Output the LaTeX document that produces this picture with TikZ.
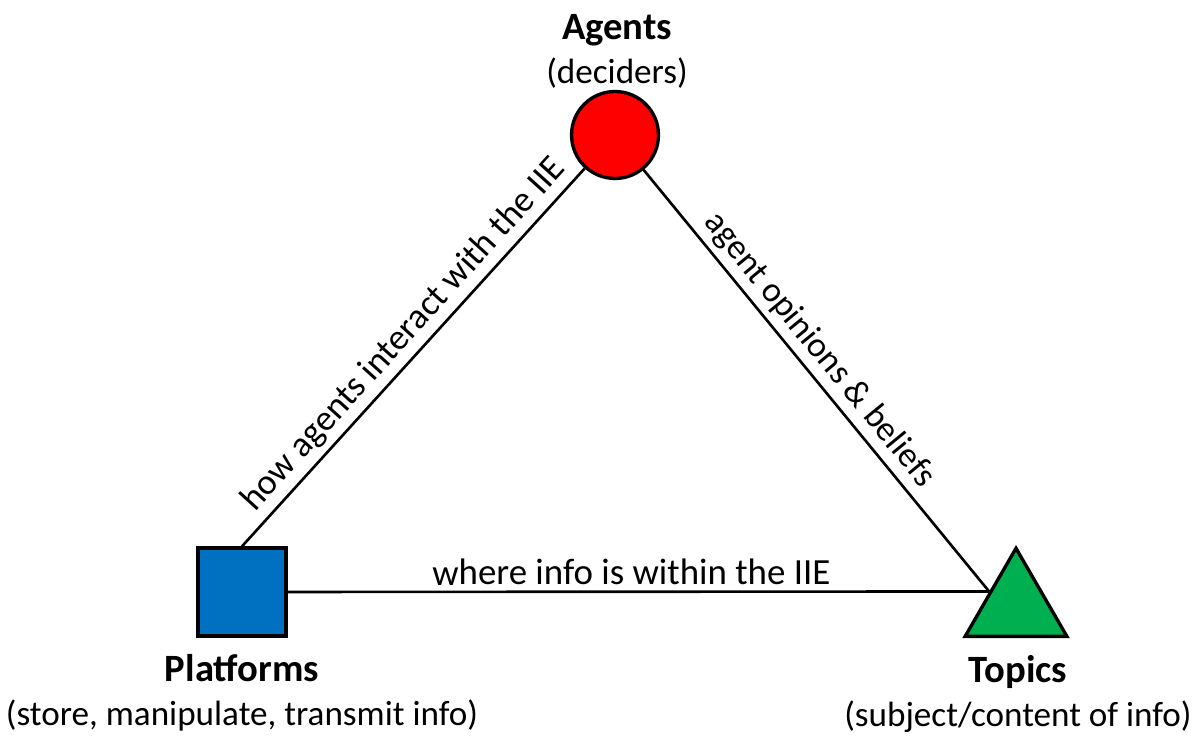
\documentclass[tikz,border=0pt]{standalone}
\usepackage{fontspec}
\setmainfont{Carlito}
\usetikzlibrary{shapes.geometric}
\definecolor{agentred}{HTML}{FF0000}
\definecolor{platformblue}{HTML}{0070C0}
\definecolor{topicgreen}{HTML}{00B050}
\newcommand{\headline}[1]{{\fontsize{22}{25}\selectfont\textbf{#1}}}

\begin{document}
\begin{tikzpicture}[x=0.02cm, y=0.02cm,
 vertex/.style = {draw=black, line width=1.9pt, inner sep=0pt},
 link/.style = {black, line width=1.5pt},
 caption/.style = {align=center, font=\fontsize{20}{25}\selectfont},
 linklabel/.style = {font=\fontsize{21}{25}\selectfont, sloped, above, inner sep=3pt}]
 \useasboundingbox (0,0) rectangle (1199,737);
 % the three corners
 \node[vertex, circle, fill=agentred, minimum size=1.74cm] (agents) at (615,602) {};
 \node[vertex, rectangle, fill=platformblue, minimum size=1.76cm] (platforms) at (242,145) {};
 \node[vertex, regular polygon, regular polygon sides=3, fill=topicgreen, minimum size=2.35cm] (topics) at (1016,130) {};
 % captions
 \node[caption] (agentstext) at (617,686) {\headline{Agents}\\(deciders)};
 \node[caption] (platformstext) at (242,44) {\headline{Platforms}\\(store, manipulate, transmit info)};
 \node[caption] (topicstext) at (1018,43) {\headline{Topics}\\(subject/content of info)};
 % edges
 \draw[link] (platforms.north) -- node[linklabel, pos=0.52, font=\fontsize{20.5}{25}\selectfont] (howtext) {how agents interact with the IIE} (agents);
 \draw[link] (agents) -- node[linklabel, pos=0.46, font=\fontsize{20}{24}\selectfont] (opiniontext) {agent opinions \& beliefs} (topics.side 1);
 \draw[link] (platforms) -- node[linklabel, pos=0.49] (wheretext) {where info is within the IIE} (topics.side 1);
\end{tikzpicture}
\end{document}
